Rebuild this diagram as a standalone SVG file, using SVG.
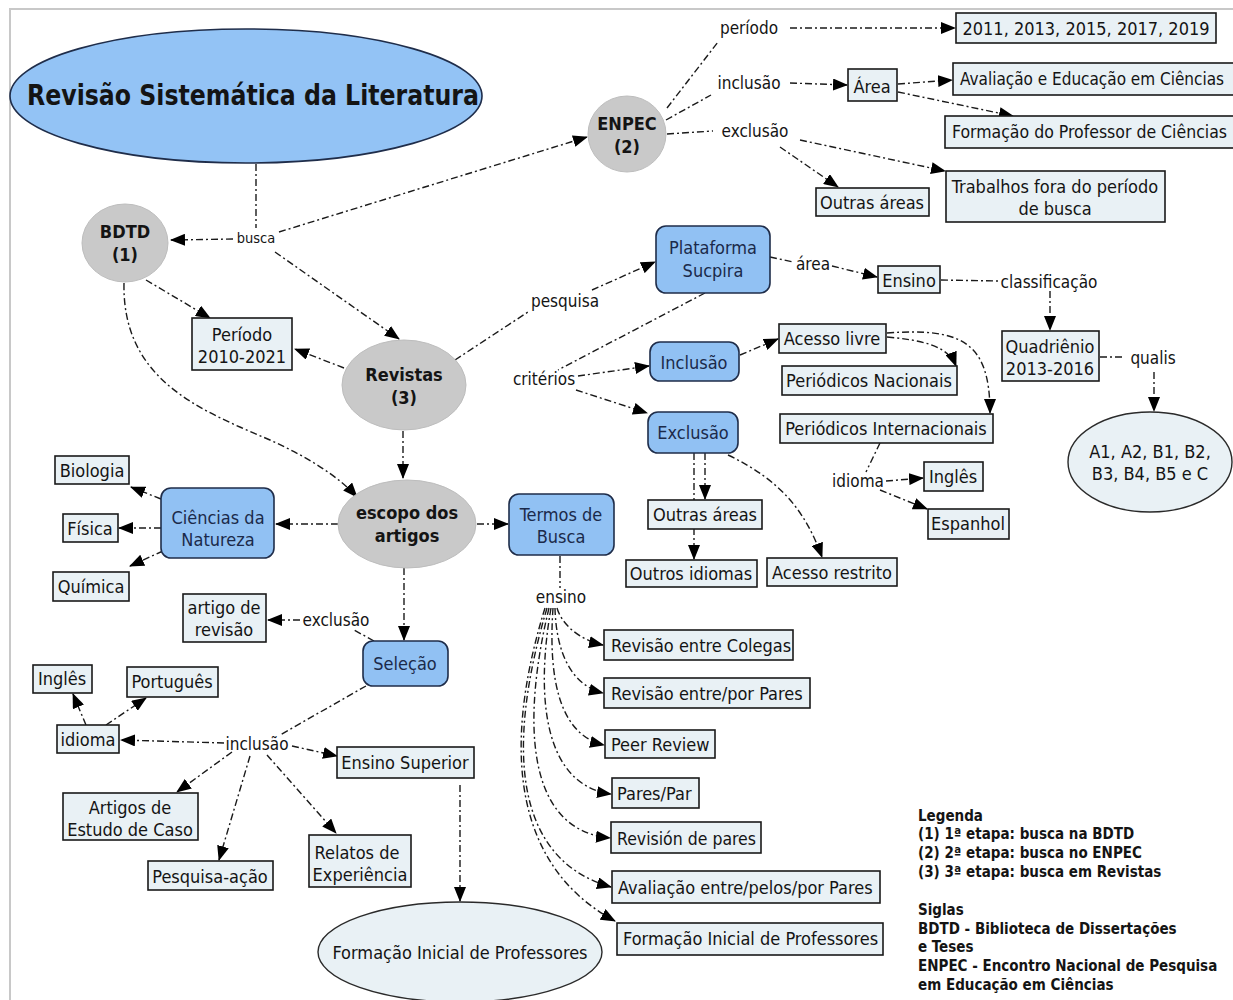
<svg xmlns="http://www.w3.org/2000/svg" width="1233" height="1000" viewBox="0 0 1233 1000">
<defs>
<marker id="ah" markerWidth="15" markerHeight="12" refX="14" refY="6" orient="auto" markerUnits="userSpaceOnUse"><path d="M0,0 L15,6 L0,12 z" fill="#000"/></marker>
<style>
text{font-family:"DejaVu Sans Condensed","DejaVu Sans","Liberation Sans",sans-serif;dominant-baseline:central;fill:#141414}
.t{font-size:18px;text-anchor:middle}
.l{font-size:17px;text-anchor:middle}
.b{font-weight:bold;font-size:18px;text-anchor:middle}
.n{fill:#1b2a4a}
.lg{font-size:15px;font-weight:bold;text-anchor:start}
.box{fill:#e9f1f5;stroke:#1a1a1a;stroke-width:1.6}
.blue{fill:#91c1f3;stroke:#1f2d4a;stroke-width:1.6}
.gray{fill:#c9c9c9;stroke:#bdbdbd;stroke-width:1}
.ell{fill:#e9f1f5;stroke:#2a2a2a;stroke-width:1.4}
#connectors path{fill:none;stroke:#1a1a1a;stroke-width:1.4;stroke-dasharray:7,3,2,3}
#connectors path.a{marker-end:url(#ah)}
</style>
</defs>
<rect width="1233" height="1000" fill="#fff"/>
<path d="M10,1000 L10,9 L1233,9" fill="none" stroke="#c8c8c8" stroke-width="2"/>

<g id="connectors">
<path d="M256,164 L256,228"/>
<path class="a" d="M233,239 L171,240"/>
<path class="a" d="M279,232 L587,137"/>
<path class="a" d="M275,252 L399,339"/>
<path class="a" d="M146,280 L210,318"/>
<path class="a" d="M344,368 L295,349"/>
<path class="a" d="M124,283 C122,380 200,410 270,440 C310,458 340,478 357,497"/>
<path class="a" d="M403,431 L403,478"/>
<path d="M455,360 L528,312"/>
<path class="a" d="M592,290 L655,262"/>
<path d="M667,108 L718,42"/>
<path class="a" d="M790,28 L955,28"/>
<path d="M666,120 L711,95"/>
<path class="a" d="M790,83 L847,85"/>
<path class="a" d="M898,84 L952,80"/>
<path class="a" d="M898,92 L1013,116"/>
<path d="M667,134 L713,131"/>
<path class="a" d="M780,147 L838,187"/>
<path class="a" d="M800,140 L945,171"/>
<path d="M770,257 L793,262"/>
<path class="a" d="M832,266 L877,277"/>
<path d="M941,280 L998,281"/>
<path class="a" d="M1050,291 L1050,330"/>
<path d="M1100,357 L1124,357"/>
<path class="a" d="M1154,372 L1154,411"/>
<path d="M705,293 L558,370"/>
<path class="a" d="M578,376 L649,366"/>
<path class="a" d="M576,390 L647,413"/>
<path class="a" d="M740,355 L778,339"/>
<path class="a" d="M887,337 C920,340 948,345 956,366"/>
<path class="a" d="M887,333 C960,328 990,340 990,413"/>
<path d="M880,443 L866,472"/>
<path class="a" d="M886,481 L923,478"/>
<path class="a" d="M880,490 L927,509"/>
<path class="a" d="M694,453 L694,559"/>
<path class="a" d="M705,453 L705,499"/>
<path class="a" d="M728,455 C780,480 805,510 822,557"/>
<path class="a" d="M338,524 L276,524"/>
<path class="a" d="M477,524 L508,524"/>
<path class="a" d="M161,499 L131,487"/>
<path class="a" d="M161,528 L119,528"/>
<path class="a" d="M163,551 L130,566"/>
<path class="a" d="M404,568 L404,640"/>
<path d="M374,641 L354,630"/>
<path class="a" d="M300,620 L268,620"/>
<path d="M366,686 L280,735"/>
<path class="a" d="M224,743 L121,740"/>
<path class="a" d="M86,725 L73,694"/>
<path class="a" d="M106,725 L146,698"/>
<path class="a" d="M292,746 L337,756"/>
<path class="a" d="M232,752 L177,792"/>
<path class="a" d="M250,756 L219,860"/>
<path class="a" d="M267,755 L336,833"/>
<path class="a" d="M460,785 L460,901"/>
<path d="M560,556 L560,588"/>
<path class="a" d="M557,608 C562,625 580,640 603,645"/>
<path class="a" d="M555,608 C556,650 570,685 603,693"/>
<path class="a" d="M553,608 C548,680 560,735 604,745"/>
<path class="a" d="M551,608 C535,700 545,785 611,794"/>
<path class="a" d="M549,608 C522,720 525,830 610,838"/>
<path class="a" d="M547,608 C505,750 515,860 611,887"/>
<path class="a" d="M545,608 C498,760 520,870 615,921"/>
</g>

<g id="n-main"><ellipse cx="246" cy="96" rx="236" ry="67" fill="#93c3f5" stroke="#1f2d4a" stroke-width="1.6"/><text x="253" y="95" font-size="29" font-weight="bold" text-anchor="middle" textLength="452" lengthAdjust="spacingAndGlyphs">Revisão Sistemática da Literatura</text></g>
<g id="n-busca"><text class="l" x="256" y="238" style="font-size:14.5px">busca</text></g>
<g id="n-bdtd"><ellipse class="gray" cx="125" cy="243" rx="43" ry="39"/><text class="b" x="125" y="231">BDTD</text><text class="b" x="125" y="254">(1)</text></g>
<g id="n-enpec"><ellipse class="gray" cx="627" cy="134" rx="39" ry="38"/><text class="b" x="627" y="123">ENPEC</text><text class="b" x="627" y="146">(2)</text></g>
<g id="n-revistas"><ellipse class="gray" cx="404" cy="385" rx="62" ry="45"/><text class="b" x="404" y="374">Revistas</text><text class="b" x="404" y="397">(3)</text></g>
<g id="n-escopo"><ellipse class="gray" cx="407" cy="524" rx="69" ry="44"/><text class="b" x="407" y="512">escopo dos</text><text class="b" x="407" y="535">artigos</text></g>
<g id="n-periodo1"><rect class="box" x="192" y="318" width="100" height="52"/><text class="t" x="242" y="334">Período</text><text class="t" x="242" y="356">2010-2021</text></g>

<g id="n-periodo-l"><text class="l" x="749" y="28">período</text></g>
<g id="n-inclusao-l"><text class="l" x="749" y="83">inclusão</text></g>
<g id="n-exclusao-l"><text class="l" x="755" y="131">exclusão</text></g>
<g id="n-anos"><rect class="box" x="956" y="13" width="260" height="30"/><text class="t" x="1086" y="28">2011, 2013, 2015, 2017, 2019</text></g>
<g id="n-area"><rect class="box" x="848" y="69" width="49" height="32"/><text class="t" x="872" y="86">Área</text></g>
<g id="n-avaliacao"><rect class="box" x="953" y="63" width="290" height="32"/><text class="t" x="960" y="79" style="text-anchor:start;font-size:17px">Avaliação e Educação em Ciências</text></g>
<g id="n-formprof"><rect class="box" x="945" y="116" width="298" height="32"/><text class="t" x="952" y="132" style="text-anchor:start;font-size:17.5px">Formação do Professor de Ciências</text></g>
<g id="n-outras1"><rect class="box" x="816" y="188" width="113" height="28"/><text class="t" x="872" y="202">Outras áreas</text></g>
<g id="n-trabalhos"><rect class="box" x="946" y="171" width="219" height="51"/><text class="t" x="1055" y="186">Trabalhos fora do período</text><text class="t" x="1055" y="208">de busca</text></g>

<g id="n-pesquisa"><text class="l" x="565" y="301">pesquisa</text></g>
<g id="n-plataforma"><rect class="blue" x="656" y="226" width="114" height="67" rx="10"/><text class="t n" x="713" y="247">Plataforma</text><text class="t n" x="713" y="270">Sucpira</text></g>
<g id="n-area-l"><text class="l" x="813" y="264">área</text></g>
<g id="n-ensino"><rect class="box" x="878" y="266" width="62" height="27"/><text class="t" x="909" y="280">Ensino</text></g>
<g id="n-classif"><text class="l" x="1049" y="282">classificação</text></g>
<g id="n-quadr"><rect class="box" x="1002" y="331" width="97" height="50"/><text class="t" x="1050" y="346">Quadriênio</text><text class="t" x="1050" y="368">2013-2016</text></g>
<g id="n-qualis"><text class="l" x="1153" y="358">qualis</text></g>
<g id="n-a1"><ellipse class="ell" cx="1150" cy="462" rx="82" ry="50"/><text class="t" x="1150" y="451">A1, A2, B1, B2,</text><text class="t" x="1150" y="473">B3, B4, B5 e C</text></g>

<g id="n-criterios"><text class="l" x="544" y="379">critérios</text></g>
<g id="n-inclusao"><rect class="blue" x="650" y="342" width="89" height="39" rx="10"/><text class="t n" x="694" y="362">Inclusão</text></g>
<g id="n-exclusao"><rect class="blue" x="648" y="412" width="90" height="41" rx="10"/><text class="t n" x="693" y="432">Exclusão</text></g>
<g id="n-acesso"><rect class="box" x="779" y="324" width="107" height="29"/><text class="t" x="832" y="338">Acesso livre</text></g>
<g id="n-pnac"><rect class="box" x="782" y="366" width="175" height="29"/><text class="t" x="869" y="380">Periódicos Nacionais</text></g>
<g id="n-pint"><rect class="box" x="780" y="414" width="213" height="29"/><text class="t" x="886" y="428">Periódicos Internacionais</text></g>
<g id="n-idioma-l"><text class="l" x="858" y="481">idioma</text></g>
<g id="n-ingles2"><rect class="box" x="924" y="462" width="59" height="29"/><text class="t" x="953" y="476">Inglês</text></g>
<g id="n-espanhol"><rect class="box" x="928" y="509" width="81" height="30"/><text class="t" x="968" y="523">Espanhol</text></g>
<g id="n-outras2"><rect class="box" x="648" y="500" width="114" height="29"/><text class="t" x="705" y="514">Outras áreas</text></g>
<g id="n-outrosid"><rect class="box" x="626" y="560" width="131" height="27"/><text class="t" x="691" y="573">Outros idiomas</text></g>
<g id="n-restrito"><rect class="box" x="767" y="558" width="130" height="28"/><text class="t" x="832" y="572">Acesso restrito</text></g>

<g id="n-termos"><rect class="blue" x="509" y="494" width="105" height="61" rx="10"/><text class="t n" x="561" y="514">Termos de</text><text class="t n" x="561" y="536">Busca</text></g>
<g id="n-ciencias"><rect class="blue" x="161" y="488" width="113" height="70" rx="10"/><text class="t n" x="218" y="517">Ciências da</text><text class="t n" x="218" y="539">Natureza</text></g>
<g id="n-biologia"><rect class="box" x="55" y="456" width="74" height="28"/><text class="t" x="92" y="470">Biologia</text></g>
<g id="n-fisica"><rect class="box" x="63" y="514" width="55" height="28"/><text class="t" x="90" y="528">Física</text></g>
<g id="n-quimica"><rect class="box" x="53" y="572" width="76" height="29"/><text class="t" x="91" y="586">Química</text></g>
<g id="n-artigo"><rect class="box" x="183" y="594" width="83" height="48"/><text class="t" x="224" y="607">artigo de</text><text class="t" x="224" y="629">revisão</text></g>
<g id="n-exclusao2"><text class="l" x="336" y="620">exclusão</text></g>
<g id="n-selecao"><rect class="blue" x="363" y="641" width="85" height="45" rx="10"/><text class="t n" x="405" y="663">Seleção</text></g>
<g id="n-ingles1"><rect class="box" x="33" y="665" width="59" height="28"/><text class="t" x="62" y="678">Inglês</text></g>
<g id="n-portugues"><rect class="box" x="127" y="667" width="91" height="30"/><text class="t" x="172" y="681">Português</text></g>
<g id="n-idioma"><rect class="box" x="57" y="725" width="62" height="28"/><text class="t" x="88" y="739">idioma</text></g>
<g id="n-inclusao2"><text class="l" x="257" y="744">inclusão</text></g>
<g id="n-ensup"><rect class="box" x="337" y="747" width="137" height="31"/><text class="t" x="405" y="762">Ensino Superior</text></g>
<g id="n-estudo"><rect class="box" x="63" y="793" width="135" height="47"/><text class="t" x="130" y="807">Artigos de</text><text class="t" x="130" y="829">Estudo de Caso</text></g>
<g id="n-pesqacao"><rect class="box" x="148" y="861" width="125" height="29"/><text class="t" x="210" y="876">Pesquisa-ação</text></g>
<g id="n-relatos"><rect class="box" x="309" y="835" width="102" height="52"/><text class="t" x="357" y="852">Relatos de</text><text class="t" x="360" y="874">Experiência</text></g>
<g id="n-fip"><ellipse class="ell" cx="460" cy="952" rx="142" ry="50"/><text class="t" x="460" y="952">Formação Inicial de Professores</text></g>

<g id="n-ensino-l"><text class="l" x="561" y="597">ensino</text></g>
<g id="n-r1"><rect class="box" x="604" y="630" width="189" height="30"/><text class="t" x="611" y="645" style="text-anchor:start">Revisão entre Colegas</text></g>
<g id="n-r2"><rect class="box" x="604" y="678" width="206" height="30"/><text class="t" x="611" y="693" style="text-anchor:start">Revisão entre/por Pares</text></g>
<g id="n-r3"><rect class="box" x="605" y="730" width="110" height="28"/><text class="t" x="611" y="744" style="text-anchor:start">Peer Review</text></g>
<g id="n-r4"><rect class="box" x="612" y="778" width="87" height="30"/><text class="t" x="617" y="793" style="text-anchor:start">Pares/Par</text></g>
<g id="n-r5"><rect class="box" x="611" y="822" width="150" height="31"/><text class="t" x="617" y="838" style="text-anchor:start" textLength="139" lengthAdjust="spacingAndGlyphs">Revisión de pares</text></g>
<g id="n-r6"><rect class="box" x="612" y="871" width="268" height="32"/><text class="t" x="618" y="887" style="text-anchor:start">Avaliação entre/pelos/por Pares</text></g>
<g id="n-r7"><rect class="box" x="617" y="923" width="266" height="32"/><text class="t" x="623" y="938" style="text-anchor:start">Formação Inicial de Professores</text></g>

<g id="legend">
<text class="lg" x="918" y="816">Legenda</text>
<text class="lg" x="918" y="834">(1) 1ª etapa: busca na BDTD</text>
<text class="lg" x="918" y="853">(2) 2ª etapa: busca no ENPEC</text>
<text class="lg" x="918" y="872">(3) 3ª etapa: busca em Revistas</text>
<text class="lg" x="918" y="910">Siglas</text>
<text class="lg" x="918" y="929">BDTD - Biblioteca de Dissertações</text>
<text class="lg" x="918" y="947">e Teses</text>
<text class="lg" x="918" y="966">ENPEC - Encontro Nacional de Pesquisa</text>
<text class="lg" x="918" y="985">em Educação em Ciências</text>
</g>
</svg>
